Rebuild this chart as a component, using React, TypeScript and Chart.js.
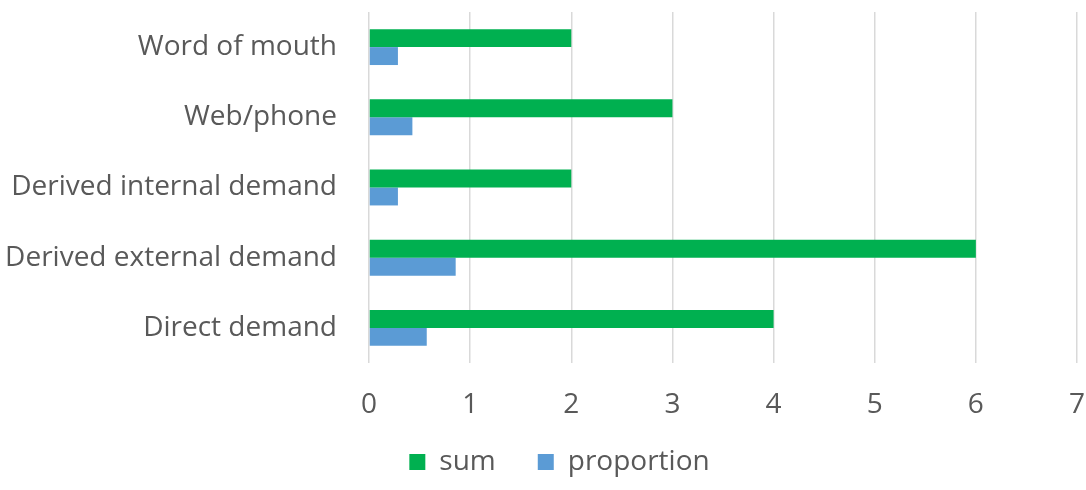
import React, { useEffect, useRef } from "react";
import { Chart, registerables } from "chart.js";

Chart.register(...registerables);

const categories = ["Word of mouth", "Web/phone", "Derived internal demand", "Derived external demand", "Direct demand"];
const sumValues = [2, 3, 2, 6, 4];
const proportionValues = [0.286, 0.429, 0.286, 0.857, 0.571];
const xTicks = [0, 1, 2, 3, 4, 5, 6, 7];

const FONT = "'Open Sans', 'Liberation Sans', sans-serif";
const TEXT = "#595959";

const shiftLegend = {
  id: "shiftLegend",
  afterLayout(chart: any) {
    if (chart.legend) {
      chart.legend.left += 21;
      chart.legend.right += 21;
    }
  },
};

export default function App() {
  const ref = useRef<HTMLCanvasElement | null>(null);
  useEffect(() => {
    document.body.style.margin = "0";
    const chart = new Chart(ref.current!, {
      type: "bar",
      data: {
        labels: categories,
        datasets: [
          { label: "sum", data: sumValues, backgroundColor: "#00B050", barPercentage: 1, categoryPercentage: 0.511 },
          { label: "proportion", data: proportionValues, backgroundColor: "#5B9BD5", barPercentage: 1, categoryPercentage: 0.511 },
        ],
      },
      plugins: [shiftLegend],
      options: {
        indexAxis: "y",
        animation: false,
        responsive: false,
        layout: { padding: { top: 12, right: 9, bottom: 4, left: 0 } },
        plugins: {
          tooltip: { enabled: false },
          legend: {
            position: "bottom",
            labels: { font: { family: FONT, size: 28 }, color: TEXT, boxWidth: 16, boxHeight: 16, padding: 42 },
          },
        },
        scales: {
          x: {
            min: 0,
            max: 7,
            afterBuildTicks: (s: any) => { s.ticks = xTicks.map((v) => ({ value: v })); },
            ticks: { font: { family: FONT, size: 28 }, color: TEXT, padding: 25 },
            grid: { color: "#D9D9D9", lineWidth: 1.5, drawTicks: false },
            border: { display: false },
            afterFit: (s: any) => {
              s.height = 43;
              s.paddingLeft = 0;
              s.paddingRight = 0;
              s._computeLabelArea = () => undefined;
            },
          },
          y: {
            ticks: { font: { family: FONT, size: 28 }, color: TEXT, padding: 32 },
            grid: { display: false, drawTicks: false },
            border: { display: false },
            afterFit: (s: any) => { s.width = 369; s.paddingTop = 0; s.paddingBottom = 0; },
          },
        },
      },
    });
    return () => chart.destroy();
  }, []);
  return <canvas ref={ref} width={1086} height={490} style={{ display: "block" }} />;
}
